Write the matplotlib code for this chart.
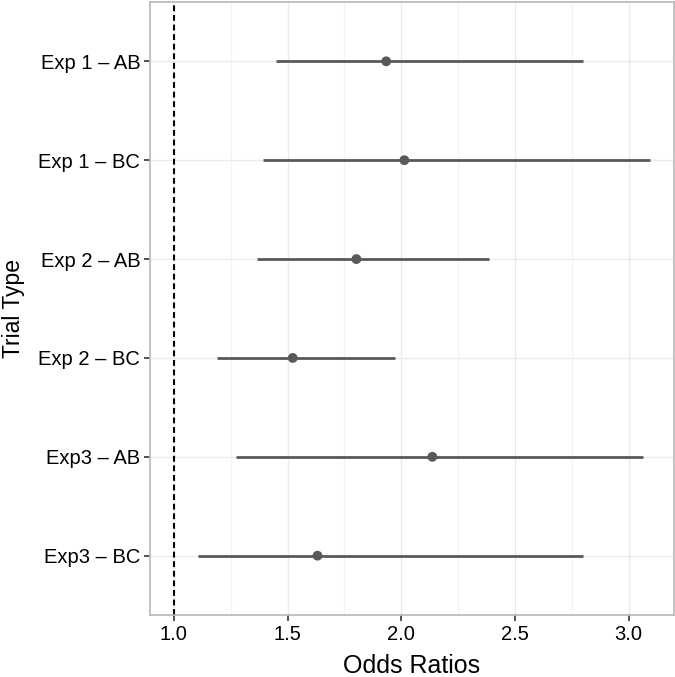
import matplotlib
matplotlib.use("Agg")
import matplotlib.pyplot as plt
from matplotlib.ticker import MultipleLocator

categories = ["Exp 1 \u2013 AB", "Exp 1 \u2013 BC", "Exp 2 \u2013 AB",
              "Exp 2 \u2013 BC", "Exp3 \u2013 AB", "Exp3 \u2013 BC"]
odds = [1.934, 2.014, 1.803, 1.523, 2.137, 1.632]
lower = [1.450, 1.393, 1.366, 1.188, 1.272, 1.108]
upper = [2.800, 3.095, 2.386, 1.973, 3.063, 2.800]
x_ticks = [1.0, 1.5, 2.0, 2.5, 3.0]
ref_line = 1.0

plt.rcParams['font.family'] = ['Liberation Sans', 'DejaVu Sans']

fig = plt.figure(figsize=(6.75, 6.77), dpi=100)
ax = fig.add_axes([150/675, 1-615/677, (674-150)/675, (615-2)/677])

n = len(categories)
ypos = [n - 1 - i for i in range(n)]

for y, lo, hi in zip(ypos, lower, upper):
    ax.plot([lo, hi], [y, y], color="#595959", lw=2.0, solid_capstyle='butt', zorder=3)
ax.scatter(odds, ypos, s=50, color="#595959", zorder=4, edgecolors='none')
ax.axvline(ref_line, color="black", lw=1.5, ls=(0, (2.8, 1.8)), zorder=2)

xmin = min(min(lower), ref_line)
xmax = max(upper)
pad = (xmax - xmin) * 0.05
ax.set_xlim(xmin - pad, xmax + pad)
ax.set_ylim(-0.6, n - 1 + 0.6)

ax.set_xticks(x_ticks)
ax.set_xticklabels([f"{t:.1f}" for t in x_ticks])
ax.xaxis.set_minor_locator(MultipleLocator(0.25))
ax.set_yticks(ypos)
ax.set_yticklabels(categories)

ax.grid(True, which='major', color="#EBEBEB", lw=1.0, zorder=0)
ax.grid(True, which='minor', axis='x', color="#F3F3F3", lw=0.8, zorder=0)
ax.set_axisbelow(True)

for s in ax.spines.values():
    s.set_color("#B8B8B8")
    s.set_linewidth(1.2)

ax.tick_params(axis='both', which='major', length=4, width=1.2, color="#333333",
               labelsize=14.5, labelcolor="black", pad=3)
ax.tick_params(axis='x', which='minor', length=0)

ax.set_xlabel("Odds Ratios", fontsize=18, va='center')
ax.xaxis.set_label_coords(0.5, -0.084)
ax.set_ylabel("Trial Type", fontsize=16.5, va='center')
ax.yaxis.set_label_coords(-0.260, 0.5)

fig.savefig("out.png", dpi=100)
